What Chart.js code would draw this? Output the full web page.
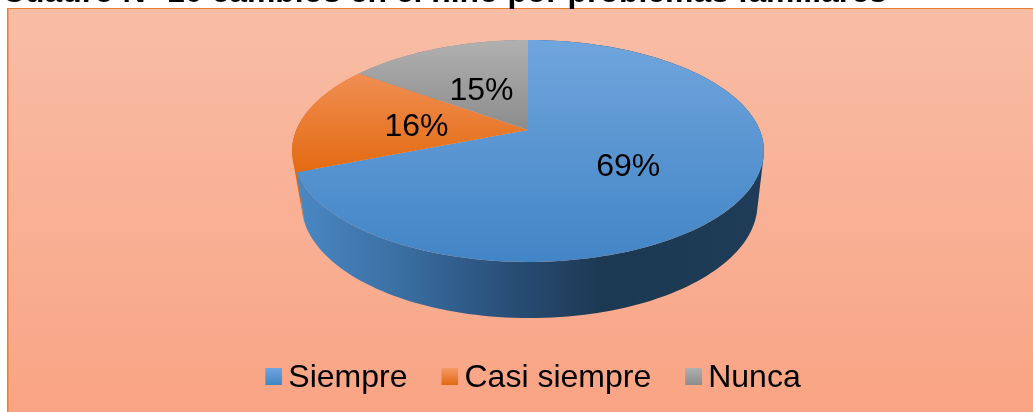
<!DOCTYPE html>
<html>
<head>
<meta charset="utf-8">
<style>html,body{margin:0;padding:0;background:#fff;overflow:hidden}canvas{display:block}</style>
<script src="https://cdn.jsdelivr.net/npm/chart.js@4/dist/chart.umd.min.js"></script>
</head>
<body>
<canvas id="c" width="1033" height="412"></canvas>
<script>
const titleText = "Cuadro N° 10 cambios en el niño por problemas familiares";
const categories = ["Siempre", "Casi siempre", "Nunca"];
const values = [69, 16, 15];

const FONT = '"Liberation Sans", Arial, sans-serif';
const topFace = {cx: 528, cy: 130, a: 231.7, b: 107, k: -0.189};
const baseFace = {cx: 529.5, cy: 179, a: 222.4, b: 108.5, k: -0.22};
const topStops = [
  [[0, '#70a5dd'], [1, '#4285c6']],
  [[0, '#f49a68'], [1, '#e3690f']],
  [[0, '#b0b0b0'], [1, '#8c8c8c']]
];
const sideStops = [
  [[0, '#4a88c4'], [0.22, '#3a6fa3'], [0.45, '#294f78'], [0.66, '#1c3852'], [1, '#1f3d58']],
  [[0, '#e06c16'], [1, '#e06c16']],
  [[0, '#8a8a8a'], [1, '#8a8a8a']]
];
const labelNudge = [[-1, 5], [2, 4], [2, 5]];

function pt(f, ang, r) {
  const u = Math.cos(ang) * r, v = Math.sin(ang) * r, w = 1 + f.k * v;
  return [f.cx + f.a * u / w, f.cy + f.b * v / w];
}
function grad(ctx, x0, y0, x1, y1, stops) {
  const g = ctx.createLinearGradient(x0, y0, x1, y1);
  stops.forEach(s => g.addColorStop(s[0], s[1]));
  return g;
}
function swatch(stops) {
  const c = document.createElement('canvas');
  c.width = 21; c.height = 20;
  const x = c.getContext('2d');
  x.fillStyle = grad(x, 0, 0, 0, 17, stops);
  x.fillRect(4, 0, 17, 17);
  return c;
}
const swatches = topStops.map(swatch);

function addQuad(ctx, a, b, c, d) {
  const area = (b[0] - a[0]) * (c[1] - a[1]) - (c[0] - a[0]) * (b[1] - a[1])
             + (c[0] - a[0]) * (d[1] - a[1]) - (d[0] - a[0]) * (c[1] - a[1]);
  const q = area >= 0 ? [a, b, c, d] : [d, c, b, a];
  ctx.moveTo(q[0][0], q[0][1]);
  for (let i = 1; i < 4; i++) ctx.lineTo(q[i][0], q[i][1]);
  ctx.closePath();
}

const pie3d = {
  id: 'pie3d',
  beforeDraw(chart) {
    const ctx = chart.ctx;
    ctx.save();
    ctx.fillStyle = '#fff';
    ctx.fillRect(0, 0, chart.width, chart.height);
    ctx.fillStyle = grad(ctx, 0, 8, 0, 412, [[0, '#f8bda6'], [1, '#f9a484']]);
    ctx.fillRect(7, 8, chart.width - 7, chart.height - 8);
    ctx.fillStyle = '#ed7d31';
    ctx.fillRect(7, 8, chart.width - 7, 1);
    ctx.fillRect(7, 8, 1.5, chart.height - 8);
    ctx.fillStyle = '#000';
    ctx.font = 'bold 31.9px ' + FONT;
    ctx.textBaseline = 'alphabetic';
    ctx.textAlign = 'left';
    ctx.fillText(titleText, 2, 2);
    ctx.restore();
  },
  beforeDatasetDraw(chart) {
    const ctx = chart.ctx, arcs = chart.getDatasetMeta(0).data, N = 160;
    ctx.save();
    [2, 1, 0].forEach(i => {
      const e = arcs[i];
      ctx.beginPath();
      for (let s = 0; s < N; s++) {
        const a0 = e.startAngle + (e.endAngle - e.startAngle) * s / N;
        const a1 = e.startAngle + (e.endAngle - e.startAngle) * (s + 1) / N;
        addQuad(ctx, pt(topFace, a0, 1), pt(topFace, a1, 1), pt(baseFace, a1, 1), pt(baseFace, a0, 1));
      }
      ctx.fillStyle = grad(ctx, 296, 0, 764, 0, sideStops[i]);
      ctx.fill('nonzero');
    });
    arcs.forEach((e, i) => {
      ctx.beginPath();
      ctx.moveTo(topFace.cx, topFace.cy);
      for (let s = 0; s <= N; s++) {
        const p = pt(topFace, e.startAngle + (e.endAngle - e.startAngle) * s / N, 1);
        ctx.lineTo(p[0], p[1]);
      }
      ctx.closePath();
      ctx.fillStyle = grad(ctx, 0, 40, 0, i === 0 ? 262 : (i === 1 ? 176 : 130), topStops[i]);
      ctx.fill();
    });
    const total = values.reduce((a, b) => a + b, 0);
    ctx.fillStyle = '#000';
    ctx.font = '32px ' + FONT;
    ctx.textAlign = 'center';
    ctx.textBaseline = 'middle';
    arcs.forEach((e, i) => {
      const p = pt(topFace, (e.startAngle + e.endAngle) / 2, 0.5);
      ctx.fillText(Math.round(values[i] / total * 100) + '%', p[0] + labelNudge[i][0], p[1] + labelNudge[i][1]);
    });
    ctx.restore();
    return false;
  }
};

new Chart(document.getElementById('c'), {
  type: 'pie',
  data: {
    labels: categories,
    datasets: [{data: values, backgroundColor: ['#5b9bd5', '#ed7d31', '#a5a5a5'], borderWidth: 0}]
  },
  options: {
    responsive: false,
    animation: false,
    layout: {padding: {left: 39, bottom: 8}},
    plugins: {
      tooltip: {enabled: false},
      legend: {
        position: 'bottom',
        labels: {
          usePointStyle: true,
          pointStyleWidth: 1,
          padding: 40,
          color: '#000',
          font: {family: FONT, size: 32},
          generateLabels: () => categories.map((t, i) => ({
            text: t, pointStyle: swatches[i], fillStyle: '#000', strokeStyle: '#000',
            lineWidth: 0, hidden: false, index: i, fontColor: '#000'
          }))
        }
      }
    }
  },
  plugins: [pie3d]
});
</script>
</body>
</html>
